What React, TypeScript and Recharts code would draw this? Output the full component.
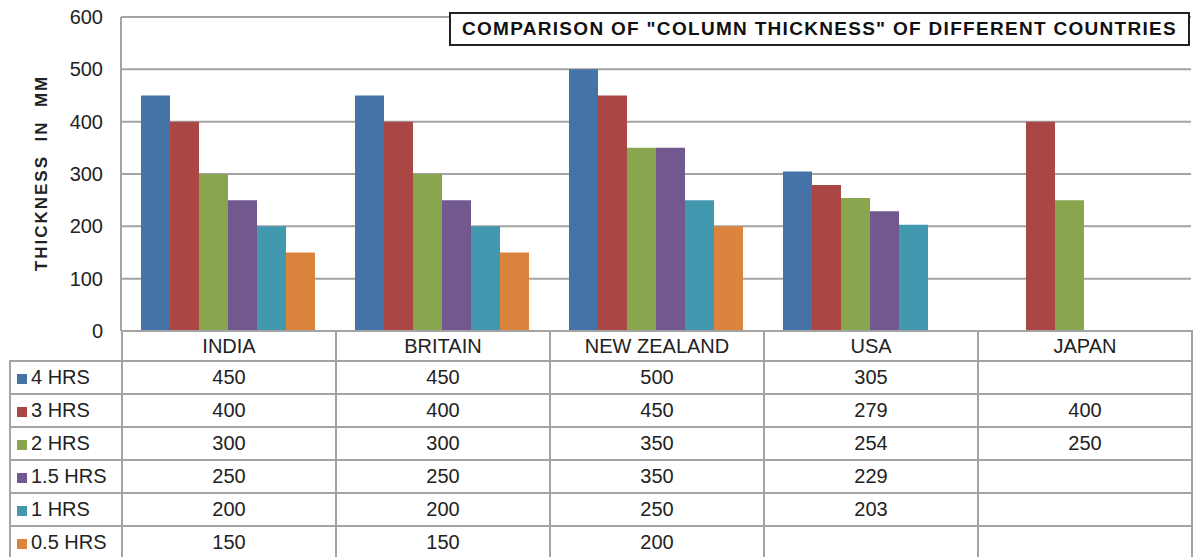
import { BarChart, Bar, XAxis, YAxis, CartesianGrid } from 'recharts';

const categories = ['INDIA', 'BRITAIN', 'NEW ZEALAND', 'USA', 'JAPAN'];
const seriesNames = ['4 HRS', '3 HRS', '2 HRS', '1.5 HRS', '1 HRS', '0.5 HRS'];
const hrs4 = [450, 450, 500, 305, null];
const hrs3 = [400, 400, 450, 279, 400];
const hrs2 = [300, 300, 350, 254, 250];
const hrs15 = [250, 250, 350, 229, null];
const hrs1 = [200, 200, 250, 203, null];
const hrs05 = [150, 150, 200, null, null];
const yTicks = [0, 100, 200, 300, 400, 500, 600];
const colors = ['#4572A7', '#AA4643', '#89A54E', '#71588F', '#4198AF', '#DB843D'];

const allSeries = [hrs4, hrs3, hrs2, hrs15, hrs1, hrs05];
const keys = ['h4', 'h3', 'h2', 'h15', 'h1', 'h05'];

const data = categories.map((name, i) => {
  const row: any = { name };
  keys.forEach((k, s) => (row[k] = allSeries[s][i]));
  return row;
});

const FONT = '"Liberation Sans", Arial, sans-serif';
const GRID = '#a3a3a3';
const cell = { border: `2px solid ${GRID}`, padding: 0, textAlign: 'center' as const };

function YLabel() {
  return (
    <text
      x={41}
      y={173}
      transform="rotate(-90 41 173)"
      textAnchor="middle"
      dominantBaseline="central"
      fontFamily={FONT}
      fontSize={17}
      fontWeight="bold"
      letterSpacing={2}
      fill="#222"
      style={{ whiteSpace: 'pre' }}
    >
      THICKNESS  IN  MM
    </text>
  );
}

export default function App() {
  return (
    <div style={{ position: 'absolute', left: 0, top: 0, width: 1194, height: 557, background: '#fff', overflow: 'hidden', fontFamily: FONT }}>
      <BarChart
        width={1194}
        height={345}
        data={data}
        margin={{ top: 17, right: 3, bottom: 14, left: 0 }}
        barCategoryGap={20}
        barGap={0}
      >
        <CartesianGrid vertical={false} stroke={GRID} strokeWidth={2} />
        <XAxis dataKey="name" hide />
        <YAxis
          width={121}
          domain={[0, 600]}
          ticks={yTicks}
          interval={0}
          tickLine={false}
          tickMargin={12}
          axisLine={{ stroke: GRID, strokeWidth: 2 }}
          tick={{ fontSize: 20, fill: '#222', fontFamily: FONT }}
          label={<YLabel />}
        />
        {keys.map((k, s) => (
          <Bar key={k} dataKey={k} name={seriesNames[s]} fill={colors[s]} isAnimationActive={false} />
        ))}
      </BarChart>

      <div
        style={{
          position: 'absolute',
          left: 449,
          top: 12,
          width: 737,
          height: 30,
          border: '2px solid #222',
          background: '#fff',
          display: 'flex',
          alignItems: 'center',
          justifyContent: 'center',
          fontWeight: 'bold',
          fontSize: 19,
          letterSpacing: 1.3,
          color: '#111',
          whiteSpace: 'nowrap',
        }}
      >
        COMPARISON OF "COLUMN THICKNESS" OF DIFFERENT COUNTRIES
      </div>

      <table
        style={{
          position: 'absolute',
          left: 9,
          top: 330,
          borderCollapse: 'collapse',
          tableLayout: 'fixed',
          fontSize: 20,
          color: '#222',
          fontFamily: FONT,
        }}
      >
        <colgroup>
          <col style={{ width: 112 }} />
          {categories.map((c) => (
            <col key={c} style={{ width: 214 }} />
          ))}
        </colgroup>
        <tbody>
          <tr style={{ height: 30 }}>
            <td style={{ padding: 0, border: 'none', borderRight: `2px solid ${GRID}` }} />
            {categories.map((c) => (
              <td key={c} style={cell}>{c}</td>
            ))}
          </tr>
          {seriesNames.map((sn, s) => (
            <tr key={sn} style={{ height: 33 }}>
              <td style={{ ...cell, textAlign: 'left', paddingLeft: 6, whiteSpace: 'nowrap' }}>
                <span style={{ display: 'inline-block', width: 10, height: 10, background: colors[s], marginRight: 4 }} />
                {sn}
              </td>
              {allSeries[s].map((v, i) => (
                <td key={i} style={cell}>{v ?? ''}</td>
              ))}
            </tr>
          ))}
        </tbody>
      </table>
    </div>
  );
}
